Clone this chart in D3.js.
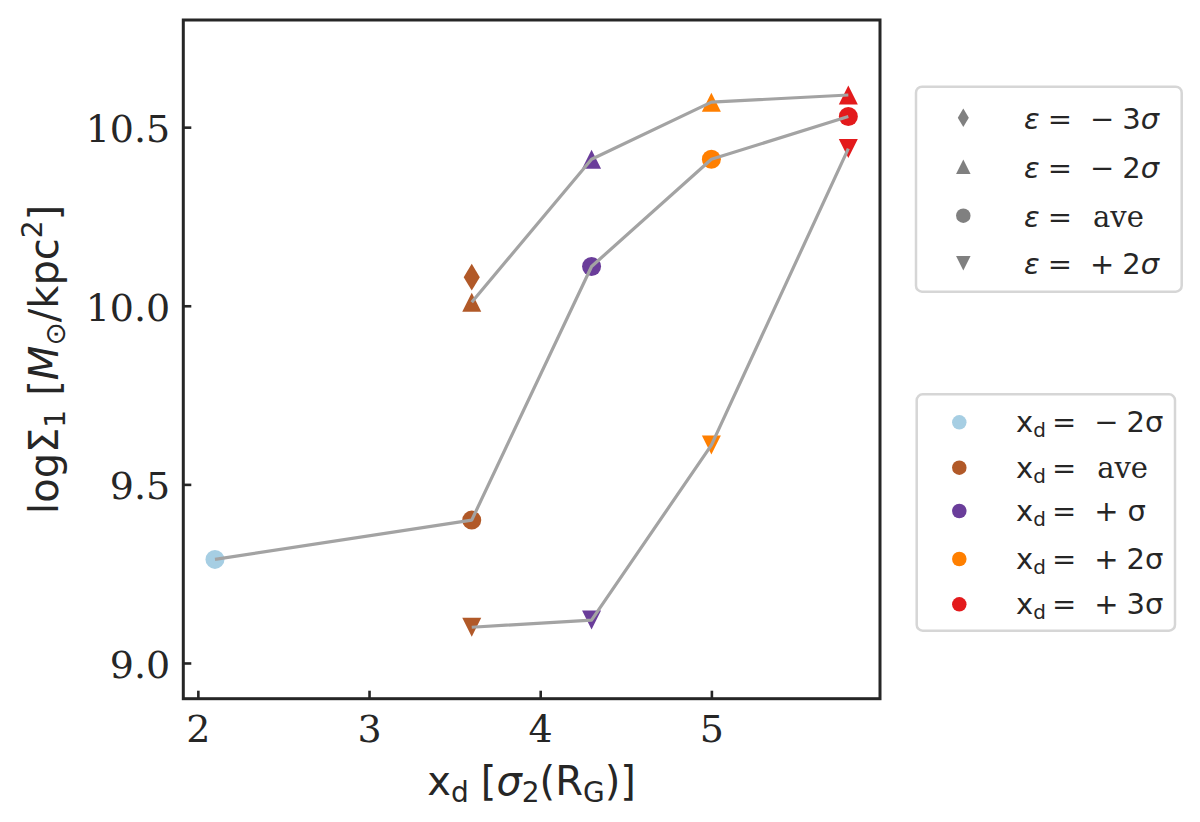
<!DOCTYPE html>
<html>
<head>
<meta charset="utf-8">
<script src="https://cdn.jsdelivr.net/npm/d3@7"></script>
<style>
  body { margin: 0; background: #fff; }
  svg { display: block; }
</style>
</head>
<body>
<div id="chart"></div>
<script>
// data
const xdValues = [2.1, 3.6, 4.3, 5.0, 5.8];
const xdColors = ["#a6cee3", "#b15928", "#6a3d9a", "#ff7f00", "#e31a1c"];
const epsMinus3 = [null, 10.08, null, null, null];
const epsMinus2 = [null, 10.01, 10.41, 10.57, 10.59];
const epsAve = [9.29, 9.40, 10.11, 10.41, 10.53];
const epsPlus2 = [null, 9.10, 9.12, 9.61, 10.44];
const xTicks = [2, 3, 4, 5];
const yTicks = [9.0, 9.5, 10.0, 10.5];

const series = [
  {values: epsMinus3, shape: "diamond", line: false},
  {values: epsMinus2, shape: "up", line: true},
  {values: epsAve, shape: "circle", line: true},
  {values: epsPlus2, shape: "down", line: true}
];

const W = 1200, H = 822;
const margin = {top: 20, right: 320, bottom: 123.3, left: 183.3};
const width = W - margin.left - margin.right;   // ~697
const height = H - margin.top - margin.bottom;  // ~679

const svg = d3.select("#chart").append("svg")
  .attr("width", W).attr("height", H);

const g = svg.append("g")
  .attr("transform", `translate(${margin.left},${margin.top})`);

const x = d3.scaleLinear().domain([1.915, 5.985]).range([0, width]);
const y = d3.scaleLinear().domain([8.9, 10.8]).range([height, 0]);

// marker path, s = marker size in px (matplotlib style)
function shapePath(shape, s) {
  const h = s / 2;
  if (shape === "circle") {
    return `M${h},0A${h},${h} 0 1,1 ${-h},0A${h},${h} 0 1,1 ${h},0Z`;
  }
  if (shape === "up") return `M0,${-h}L${h},${h}L${-h},${h}Z`;
  if (shape === "down") return `M0,${h}L${h},${-h}L${-h},${-h}Z`;
  if (shape === "diamond") {
    const dy = 0.707 * s, dx = 0.6 * 0.707 * s;
    return `M0,${-dy}L${dx},0L0,${dy}L${-dx},0Z`;
  }
}

// markers
series.forEach(sr => {
  const pts = sr.values.map((v, i) => ({x: xdValues[i], y: v, c: xdColors[i]}))
    .filter(d => d.y !== null);
  g.selectAll(null)
    .data(pts)
    .enter()
    .append("path")
    .attr("d", shapePath(sr.shape, 19))
    .attr("transform", d => `translate(${x(d.x)},${y(d.y)})`)
    .attr("fill", d => d.c);
});

// grey lines on top of markers
const line = d3.line()
  .defined(d => d.y !== null)
  .x(d => x(d.x))
  .y(d => y(d.y));

series.filter(sr => sr.line).forEach(sr => {
  const pts = sr.values.map((v, i) => ({x: xdValues[i], y: v}));
  g.append("path")
    .datum(pts)
    .attr("d", line)
    .attr("fill", "none")
    .attr("stroke", "#a3a3a3")
    .attr("stroke-width", 3.2)
    .attr("stroke-linejoin", "round");
});

// axes
const axeX = d3.axisBottom(x).tickValues(xTicks).tickFormat(d3.format("d"))
  .tickSizeInner(-8).tickSizeOuter(0).tickPadding(14);
const axeY = d3.axisLeft(y).tickValues(yTicks).tickFormat(d3.format(".1f"))
  .tickSizeInner(-8).tickSizeOuter(0).tickPadding(13);

const groupeX = g.append("g").attr("transform", `translate(0,${height})`).call(axeX);
const groupeY = g.append("g").call(axeY);

[groupeX, groupeY].forEach(ax => {
  ax.select(".domain").remove();
  ax.selectAll(".tick line").attr("stroke", "#262626").attr("stroke-width", 2.6);
  ax.selectAll(".tick text")
    .attr("fill", "#262626")
    .style("font-family", "'DejaVu Serif', serif")
    .style("font-size", "38px");
});
groupeY.selectAll(".tick text").attr("dy", "0.38em");
groupeX.selectAll(".tick text").attr("dy", "0.78em");

// frame
g.append("rect")
  .attr("width", width).attr("height", height)
  .attr("fill", "none").attr("stroke", "#262626").attr("stroke-width", 3);

// axis labels
const sans = "'DejaVu Sans', sans-serif";
const xl = svg.append("text")
  .attr("x", margin.left + width / 2).attr("y", 795)
  .attr("text-anchor", "middle")
  .attr("fill", "#262626")
  .style("font-family", sans).style("font-size", "40px");
xl.append("tspan").text("x");
xl.append("tspan").attr("baseline-shift", "-25%").style("font-size", "28px").text("d");
xl.append("tspan").attr("dx", 12).text("[");
xl.append("tspan").style("font-style", "italic").text("σ");
xl.append("tspan").attr("baseline-shift", "-25%").style("font-size", "28px").text("2");
xl.append("tspan").text("(R");
xl.append("tspan").attr("baseline-shift", "-25%").style("font-size", "28px").text("G");
xl.append("tspan").text(")]");

const yl = svg.append("text")
  .attr("transform", `translate(58,${margin.top + height / 2}) rotate(-90)`)
  .attr("text-anchor", "middle")
  .attr("fill", "#262626")
  .style("font-family", sans).style("font-size", "40px");
yl.append("tspan").text("logΣ");
yl.append("tspan").attr("baseline-shift", "-25%").style("font-size", "28px").text("1");
yl.append("tspan").attr("dx", 14).text("[");
yl.append("tspan").style("font-style", "italic").text("M");
yl.append("tspan").attr("baseline-shift", "-25%").style("font-size", "28px").text("⊙");
yl.append("tspan").text("/kpc");
yl.append("tspan").attr("baseline-shift", "super").style("font-size", "28px").text("2");
yl.append("tspan").text("]");

// legend names
const epsNames = [
  {sign: "−", num: "3"},
  {sign: "−", num: "2"},
  {ave: true},
  {sign: "+", num: "2"}
];
const xdNames = [
  {sign: "−", num: "2"},
  {ave: true},
  {sign: "+", num: ""},
  {sign: "+", num: "2"},
  {sign: "+", num: "3"}
];

function legendBox(x0, y0, w, h) {
  svg.append("rect")
    .attr("x", x0).attr("y", y0).attr("width", w).attr("height", h)
    .attr("rx", 6).attr("ry", 6)
    .attr("fill", "#fff").attr("stroke", "#d6d6d6").attr("stroke-width", 2.5);
}

function rhs(t, d, italicSigma) {
  if (d.ave) {
    t.append("tspan").attr("dx", 21).style("font-family", "'DejaVu Serif', serif").text("ave");
    return;
  }
  t.append("tspan").attr("dx", 18).text(d.sign);
  if (d.num) t.append("tspan").attr("dx", 8).text(d.num);
  t.append("tspan").attr("dx", d.num ? 0 : 9)
    .style("font-style", italicSigma ? "italic" : "normal").text("σ");
}

// legend 1: epsilon markers
legendBox(916, 86.7, 265.7, 205);
const leg1Y = [117.7, 166.7, 215.7, 263.3];
const leg1Shapes = ["diamond", "up", "circle", "down"];
epsNames.forEach((d, i) => {
  svg.append("path")
    .attr("d", leg1Shapes[i] === "diamond" ? shapePath("diamond", 13) : shapePath(leg1Shapes[i], 14.5))
    .attr("transform", `translate(963.3,${leg1Y[i]})`)
    .attr("fill", "#808080");
  const t = svg.append("text")
    .attr("x", 1024).attr("y", leg1Y[i] + 11)
    .attr("fill", "#262626")
    .style("font-family", sans).style("font-size", "29px");
  t.append("tspan").style("font-style", "italic").text("ε");
  t.append("tspan").attr("dx", 8).text("=");
  rhs(t, d, true);
});

// legend 2: x_d colours
legendBox(916.7, 394.3, 258.3, 236.4);
const leg2Y = [422.3, 467.7, 511, 559, 604.3];
xdNames.forEach((d, i) => {
  svg.append("path")
    .attr("d", shapePath("circle", 14.5))
    .attr("transform", `translate(959.3,${leg2Y[i]})`)
    .attr("fill", xdColors[i]);
  const t = svg.append("text")
    .attr("x", 1016).attr("y", leg2Y[i] + 10)
    .attr("fill", "#262626")
    .style("font-family", sans).style("font-size", "29px");
  t.append("tspan").text("x");
  t.append("tspan").attr("baseline-shift", "-25%").style("font-size", "20px").text("d");
  t.append("tspan").attr("dx", 6).text("=");
  rhs(t, d, false);
});
</script>
</body>
</html>
